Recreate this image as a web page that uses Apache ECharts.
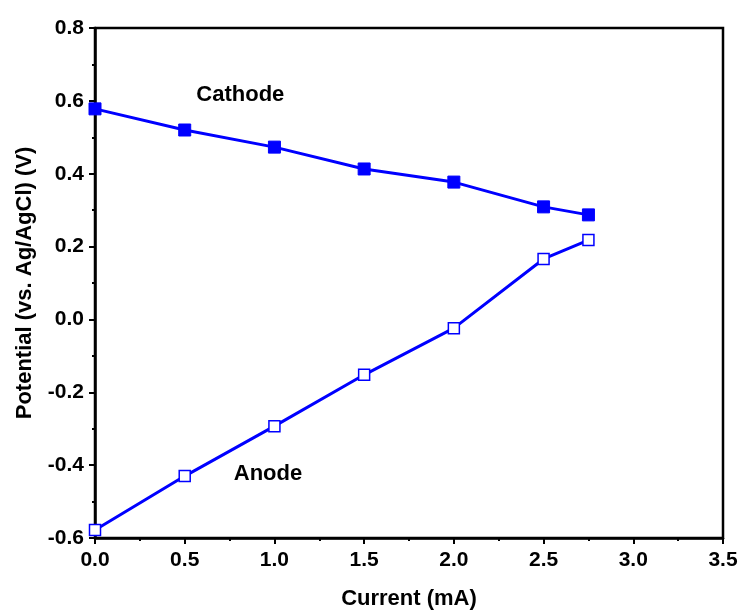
<!DOCTYPE html>
<html><head><meta charset="utf-8">
<script src="https://cdn.jsdelivr.net/npm/echarts@6/dist/echarts.min.js"></script>
<style>html,body{margin:0;padding:0;background:#fff}#c{width:741px;height:611px}</style>
</head><body><div id="c"></div>
<script>
const currents = [0, 0.5, 1.0, 1.5, 2.0, 2.5, 2.75];
const cathode = [0.578, 0.520, 0.473, 0.413, 0.377, 0.309, 0.287];
const anode = [-0.578, -0.430, -0.293, -0.152, -0.024, 0.166, 0.218];
const xTicks = ['0.0','0.5','1.0','1.5','2.0','2.5','3.0','3.5'];
const yTicks = ['-0.6','-0.4','-0.2','0.0','0.2','0.4','0.6','0.8'];
const labels = [{text:'Cathode', x:0.81, y:0.616}, {text:'Anode', x:0.964, y:-0.424}];

const font = 'Liberation Sans, Arial, sans-serif';
const chart = echarts.init(document.getElementById('c'));
const axisCommon = {
  axisLine:{show:true,onZero:false,lineStyle:{color:'#000',width:2.5}},
  axisTick:{show:true,inside:false,length:6,lineStyle:{color:'#000',width:2}},
  minorTick:{show:true,splitNumber:2,length:3,lineStyle:{color:'#000',width:2}},
  splitLine:{show:false},
  axisLabel:{color:'#000',fontFamily:font,fontWeight:'bold',fontSize:21}
};
chart.setOption({
  animation:false,
  grid:{left:95,right:18,top:28,bottom:73,show:true,borderColor:'#000',borderWidth:2.5,outerBoundsMode:'none',containLabel:false},
  xAxis:Object.assign({}, axisCommon, {
    type:'value',min:0,max:3.5,interval:0.5,
    name:'Current (mA)',nameLocation:'middle',nameGap:50,
    nameTextStyle:{color:'#000',fontFamily:font,fontWeight:'bold',fontSize:22},
    axisLabel:Object.assign({}, axisCommon.axisLabel,{margin:12,formatter:(v)=>xTicks[Math.round(v/0.5)]})
  }),
  yAxis:Object.assign({}, axisCommon, {
    type:'value',min:-0.6,max:0.8,interval:0.2,
    name:'Potential (vs. Ag/AgCl) (V)',nameLocation:'middle',nameGap:59,nameRotate:90,
    nameTextStyle:{color:'#000',fontFamily:font,fontWeight:'bold',fontSize:22},
    axisLabel:Object.assign({}, axisCommon.axisLabel,{margin:11,formatter:(v)=>yTicks[Math.round((v+0.6)/0.2)]})
  }),
  series:[
    {type:'line',data:currents.map((x,i)=>[x,cathode[i]]),symbol:'rect',symbolSize:12,
     lineStyle:{color:'#0000ff',width:3},itemStyle:{color:'#0000ff',borderColor:'#0000ff',borderWidth:1}},
    {type:'line',data:currents.map((x,i)=>[x,anode[i]]),symbol:'rect',symbolSize:11,
     lineStyle:{color:'#0000ff',width:3},itemStyle:{color:'#ffffff',borderColor:'#0000ff',borderWidth:1.5}}
  ]
});
const g = labels.map(l=>{
  const p = chart.convertToPixel({gridIndex:0},[l.x,l.y]);
  return {type:'text',x:p[0],y:p[1],style:{text:l.text,fill:'#000',font:'bold 22px '+font,align:'center',verticalAlign:'middle'}};
});
chart.setOption({graphic:g});
</script></body></html>
